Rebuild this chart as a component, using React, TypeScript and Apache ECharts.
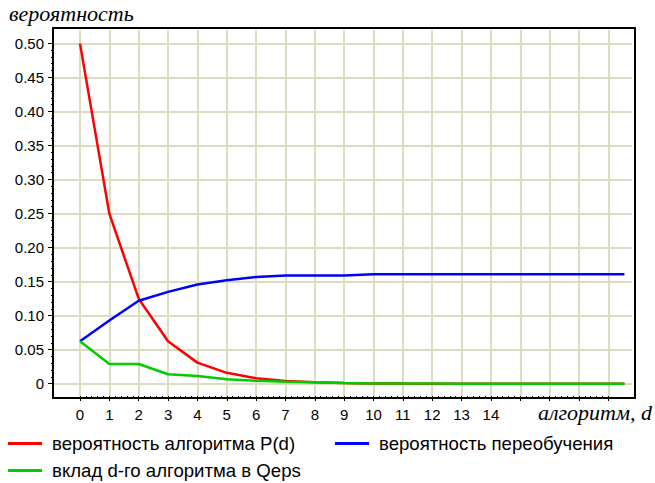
import React, { useEffect, useRef } from "react";
import * as echarts from "echarts";

const dValues = [0, 1, 2, 3, 4, 5, 6, 7, 8, 9, 10, 11, 12, 13, 14, 15, 16, 17, 18, 18.55];
const pAlgorithm = [0.5, 0.25, 0.125, 0.0625, 0.031, 0.016, 0.008, 0.004, 0.002, 0.001, 0.0005, 0.0002, 0.0001, 0, 0, 0, 0, 0, 0, 0];
const pOverfit = [0.0625, 0.093, 0.122, 0.135, 0.146, 0.152, 0.157, 0.159, 0.159, 0.159, 0.161, 0.161, 0.161, 0.161, 0.161, 0.161, 0.161, 0.161, 0.161, 0.161];
const contribution = [0.0625, 0.029, 0.029, 0.014, 0.0115, 0.0065, 0.0045, 0.003, 0.002, 0.001, 0.0005, 0.0003, 0.0002, 0.0001, 0, 0, 0, 0, 0, 0];
const seriesNames = ["вероятность алгоритма P(d)", "вероятность переобучения", "вклад d-го алгоритма в Qeps"];
const seriesColors = ["#ff0000", "#0000ff", "#00cc00"];
const yTitle = "вероятность";
const xTitle = "алгоритм, d";
const lastLabeledTick = 14;

export default function App() {
  const ref = useRef<HTMLDivElement>(null);
  useEffect(() => {
    if (!ref.current) return;
    const chart = echarts.init(ref.current, null, { renderer: "svg" });
    const font = "Liberation Sans";
    const gridColor = "#dcdcc0";
    const mk = (vals: number[]) => dValues.map((d, i) => [d, vals[i]]);
    const legendBase = {
      orient: "horizontal",
      padding: 0,
      icon: "rect",
      itemWidth: 34,
      itemHeight: 3,
      textStyle: { fontFamily: font, fontSize: 18.6, color: "#000", padding: [0, 0, 0, 5] },
      selectedMode: false,
    };
    chart.setOption({
      animation: false,
      backgroundColor: "#fff",
      grid: [
        { left: 53, right: 20, top: 28, bottom: 85, show: true, borderColor: "#000", borderWidth: 2, backgroundColor: "transparent" },
        { left: 80, right: 46.7, top: 30, bottom: 87 },
        { left: 54, right: 23, top: 43.3, bottom: 99.3 },
      ],
      xAxis: [
        { gridIndex: 0, type: "value", min: -0.92, max: 18.91, show: false },
        {
          gridIndex: 1, type: "value", min: 0, max: 18, interval: 1, offset: 2,
          axisLine: { show: false },
          axisTick: { show: true, length: 5, lineStyle: { color: "#000", width: 1 } },
          minorTick: { show: true, splitNumber: 5, length: 2, lineStyle: { color: "#000", width: 1 } },
          splitLine: { show: true, lineStyle: { color: gridColor, width: 2 } },
          axisLabel: {
            margin: 9, fontFamily: font, fontSize: 15, color: "#000",
            formatter: (v: number) => (v <= lastLabeledTick ? String(v) : ""),
          },
        },
        { gridIndex: 2, type: "value", min: 0, max: 1, show: false },
      ],
      yAxis: [
        { gridIndex: 0, type: "value", min: -0.021, max: 0.523, show: false },
        { gridIndex: 1, type: "value", min: 0, max: 1, show: false },
        {
          gridIndex: 2, type: "value", min: 0, max: 0.5, interval: 0.05, offset: 1,
          axisLine: { show: false },
          axisTick: { show: true, length: 6, lineStyle: { color: "#000", width: 1 } },
          minorTick: { show: true, splitNumber: 5, length: 3, lineStyle: { color: "#000", width: 1 } },
          splitLine: { show: true, lineStyle: { color: gridColor, width: 2 } },
          axisLabel: {
            margin: 9, fontFamily: font, fontSize: 15, color: "#000",
            formatter: (v: number) => (v === 0 ? "0" : v.toFixed(2)),
          },
        },
      ],
      legend: [
        { ...legendBase, data: [seriesNames[0]], left: 8, top: 434 },
        { ...legendBase, data: [seriesNames[1]], left: 335, top: 434 },
        { ...legendBase, data: [seriesNames[2]], left: 8, top: 461 },
      ],
      graphic: [
        {
          type: "text", left: 9, top: 2,
          style: { text: yTitle, fontFamily: "Liberation Serif", fontStyle: "italic", fontSize: 22, fill: "#000" },
        },
        {
          type: "text", right: 3, top: 401,
          style: { text: xTitle, fontFamily: "Liberation Serif", fontStyle: "italic", fontSize: 22, fill: "#000" },
        },
      ],
      series: [pAlgorithm, pOverfit, contribution].map((vals, i) => ({
        name: seriesNames[i],
        type: "line",
        xAxisIndex: 0,
        yAxisIndex: 0,
        data: mk(vals),
        symbol: "none",
        color: seriesColors[i],
        lineStyle: { color: seriesColors[i], width: 2.5 },
        z: i === 2 ? 4 : 3,
      })),
    });
    return () => chart.dispose();
  }, []);
  return <div ref={ref} style={{ position: "absolute", left: 0, top: 0, width: 655, height: 483 }} />;
}
